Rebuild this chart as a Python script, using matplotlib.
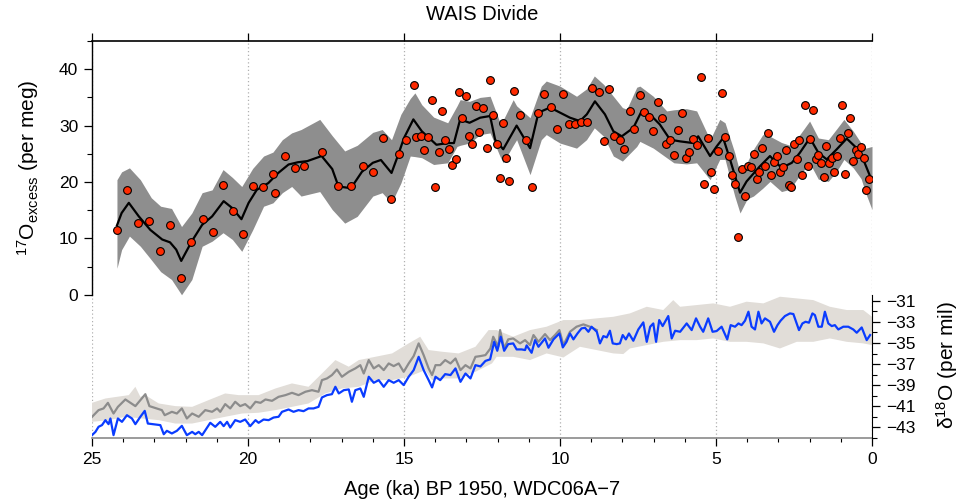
import numpy as np
import matplotlib
matplotlib.use("Agg")
import matplotlib.pyplot as plt

plt.rcParams['font.family'] = ['Liberation Sans', 'DejaVu Sans']
plt.rcParams['mathtext.fontset'] = 'custom'
plt.rcParams['mathtext.rm'] = 'Liberation Sans'
plt.rcParams['mathtext.it'] = 'Liberation Sans:italic'

# 17O-excess measurements (age ka, per meg)
o17_age = [24.20, 23.88, 23.53, 23.16, 22.83, 22.49, 22.16, 21.82, 21.45, 21.12,
           20.80, 20.49, 20.16, 19.85, 19.53, 19.21, 19.14, 18.82, 18.49, 18.20,
           17.64, 17.12, 16.71, 16.32, 15.98, 15.68, 15.42, 15.17, 14.93, 14.69,
           14.60, 14.47, 14.36, 14.24, 14.11, 14.01, 13.89, 13.77, 13.68, 13.56,
           13.45, 13.33, 13.24, 13.13, 13.02, 12.92, 12.81, 12.69, 12.59, 12.47,
           12.35, 12.24, 12.14, 12.03, 11.92, 11.82, 11.73, 11.65, 11.47, 11.28,
           11.09, 10.91, 10.69, 10.50, 10.30, 10.10, 9.90, 9.71, 9.52, 9.33,
           9.13, 8.96, 8.76, 8.60, 8.43, 8.26, 8.09, 7.94, 7.77, 7.62,
           7.45, 7.30, 7.15, 7.01, 6.87, 6.73, 6.60, 6.46, 6.36, 6.22,
           6.09, 5.95, 5.85, 5.73, 5.62, 5.49, 5.38, 5.26, 5.15, 5.06,
           4.93, 4.82, 4.71, 4.59, 4.49, 4.39, 4.29, 4.18, 4.07, 3.98,
           3.89, 3.79, 3.70, 3.61, 3.52, 3.42, 3.32, 3.23, 3.13, 3.04,
           2.95, 2.86, 2.77, 2.67, 2.59, 2.50, 2.41, 2.33, 2.24, 2.16,
           2.06, 1.98, 1.89, 1.81, 1.72, 1.64, 1.55, 1.47, 1.38, 1.29,
           1.21, 1.12, 1.04, 0.95, 0.87, 0.78, 0.70, 0.61, 0.52, 0.44,
           0.35, 0.27, 0.18, 0.11]
o17_val = [11.5, 18.6, 12.7, 13.1, 7.7, 12.4, 2.9, 9.3, 13.4, 11.1,
           19.5, 14.9, 10.7, 19.3, 19.1, 21.4, 18.1, 24.6, 22.5, 22.8,
           25.3, 19.2, 19.3, 22.9, 21.8, 27.8, 16.9, 25.0, 27.4, 37.2,
           27.9, 28.2, 25.7, 28.0, 34.6, 19.1, 25.4, 32.6, 27.4, 25.9,
           23.0, 24.0, 36.0, 31.3, 35.3, 28.1, 26.7, 33.4, 28.9, 33.2,
           26.0, 38.1, 31.8, 26.8, 20.7, 30.5, 24.2, 20.1, 36.2, 31.9,
           27.5, 19.1, 32.3, 35.6, 33.3, 29.4, 35.6, 30.2, 30.3, 30.7,
           30.6, 36.6, 35.9, 27.2, 36.4, 28.1, 27.4, 25.9, 32.5, 29.4,
           35.5, 32.4, 31.6, 29.0, 34.2, 31.4, 26.8, 27.4, 24.7, 29.2,
           32.2, 24.2, 25.3, 27.7, 26.6, 38.6, 19.7, 27.8, 21.7, 18.7,
           25.5, 35.7, 27.9, 24.6, 21.2, 19.6, 10.3, 22.3, 17.6, 22.8,
           22.7, 24.9, 20.5, 21.8, 26.0, 22.9, 28.6, 21.3, 23.5, 24.6,
           21.8, 22.6, 25.7, 19.4, 19.1, 26.8, 24.0, 27.5, 21.3, 33.6,
           22.8, 27.7, 32.7, 24.0, 24.7, 23.3, 20.8, 26.3, 23.3, 24.3,
           21.7, 24.6, 27.8, 33.6, 21.4, 28.6, 31.4, 23.8, 25.6, 25.0,
           26.2, 24.2, 18.5, 20.5]

# smoothed 17O-excess curve
fit_age = [24.20, 24.05, 23.82, 23.50, 23.13, 22.75, 22.50, 22.30, 22.14, 21.80,
           21.47, 21.15, 20.78, 20.51, 20.21, 19.98, 19.72, 19.35, 19.03, 18.70,
           18.40, 18.10, 17.64, 17.30, 17.10, 16.70, 16.35, 16.00, 15.74, 15.40,
           15.20, 15.00, 14.70, 14.43, 13.96, 13.60, 13.40, 13.20, 12.90, 12.56,
           12.24, 12.08, 11.82, 11.39, 10.96, 10.69, 10.32, 10.00, 9.68, 9.36,
           9.14, 8.88, 8.56, 8.29, 8.02, 7.65, 7.38, 7.12, 6.80, 6.47,
           6.15, 5.73, 5.57, 5.19, 4.98, 4.77, 4.55, 4.23, 4.02, 3.59,
           3.27, 2.90, 2.57, 2.31, 1.99, 1.72, 1.45, 1.13, 0.81, 0.49,
           0.28, 0.06]
fit_val = [12.3, 14.5, 16.3, 13.9, 11.5, 9.8, 9.3, 8.0, 6.0, 9.5,
           12.4, 13.9, 16.6, 15.4, 13.4, 16.3, 18.6, 19.8, 21.6, 23.1,
           23.5, 23.7, 24.6, 22.3, 19.2, 18.9, 21.8, 23.4, 23.9, 21.6,
           24.6, 27.8, 31.1, 29.0, 26.6, 26.9, 26.9, 31.1, 30.5, 31.4,
           31.7, 27.5, 25.8, 30.0, 26.0, 32.3, 33.2, 32.3, 31.4, 30.8,
           32.0, 34.3, 32.0, 29.0, 28.1, 29.6, 32.6, 32.0, 30.2, 27.5,
           27.2, 26.9, 28.1, 24.6, 26.3, 27.8, 24.0, 18.1, 20.1, 22.8,
           24.6, 22.5, 23.4, 25.2, 27.8, 25.2, 24.0, 25.8, 27.7, 26.0,
           24.0, 21.0]

# uncertainty envelope of the curve
band_age = [24.20, 24.05, 23.80, 23.45, 23.10, 22.80, 22.45, 22.13, 21.80, 21.47,
            21.15, 20.80, 20.50, 20.20, 19.85, 19.50, 19.20, 18.90, 18.60, 18.30,
            17.70, 17.30, 16.90, 16.50, 16.00, 15.70, 15.40, 15.10, 14.80, 14.65,
            14.43, 14.05, 13.60, 13.30, 13.20, 12.90, 12.56, 12.24, 11.92, 11.82,
            11.50, 11.39, 10.96, 10.60, 10.44, 10.00, 9.47, 9.15, 8.90, 8.60,
            8.29, 8.00, 7.86, 7.54, 7.44, 7.01, 6.58, 6.35, 5.95, 5.62,
            5.19, 4.88, 4.71, 4.40, 4.23, 4.00, 3.80, 3.50, 3.27, 2.90,
            2.63, 2.30, 2.00, 1.72, 1.40, 1.12, 0.90, 0.60, 0.35, 0.20,
            0.00]
band_lo = [4.7, 8.0, 10.4, 8.6, 6.2, 4.1, 2.7, 0.0, 2.7, 8.6,
           9.5, 11.0, 9.8, 7.7, 11.5, 15.7, 16.3, 18.1, 19.2, 17.5,
           18.3, 15.1, 12.7, 13.9, 17.5, 18.1, 16.3, 19.8, 24.6, 24.5,
           24.3, 23.1, 23.4, 26.3, 26.5, 26.9, 28.4, 28.7, 24.5, 23.4,
           26.5, 27.5, 21.3, 27.5, 28.4, 26.9, 26.0, 27.5, 29.6, 28.1,
           24.6, 23.7, 24.5, 26.3, 27.2, 26.0, 24.3, 23.4, 23.2, 23.4,
           20.4, 24.0, 24.0, 17.5, 14.5, 17.0, 17.5, 18.9, 20.1, 18.3,
           18.7, 21.3, 23.4, 20.5, 20.1, 22.0, 24.0, 22.5, 20.6, 18.0,
           15.1]
band_hi = [20.4, 21.8, 22.5, 20.4, 17.2, 15.7, 15.3, 12.1, 14.5, 18.1,
           18.6, 22.2, 20.8, 19.2, 22.4, 24.6, 25.3, 27.5, 28.7, 29.3,
           31.1, 28.2, 25.5, 26.5, 28.8, 29.3, 27.5, 32.0, 34.8, 35.8,
           33.7, 31.5, 30.5, 33.5, 34.6, 34.3, 35.0, 35.2, 30.5, 31.0,
           34.6, 33.5, 31.4, 37.0, 37.9, 37.0, 35.2, 36.5, 38.8, 37.3,
           35.2, 33.2, 32.9, 36.8, 37.0, 35.2, 32.6, 32.8, 33.0, 32.6,
           27.5, 31.1, 30.5, 25.2, 21.6, 23.5, 25.8, 28.4, 28.1, 27.0,
           26.5, 28.5, 30.8, 27.8, 27.5, 29.5, 31.1, 29.0, 26.9, 26.0,
           26.3]

# d18O, blue curve
blue_age = [25.00, 24.89, 24.79, 24.68, 24.57, 24.47, 24.41, 24.31, 24.17, 24.04,
            23.88, 23.72, 23.61, 23.45, 23.31, 23.21, 22.81, 22.70, 22.60, 22.44,
            22.28, 22.12, 21.96, 21.79, 21.69, 21.58, 21.47, 21.21, 21.05, 20.89,
            20.78, 20.67, 20.57, 20.41, 20.25, 20.09, 19.93, 19.76, 19.66, 19.50,
            19.34, 19.18, 19.02, 18.91, 18.70, 18.54, 18.38, 18.22, 18.06, 17.90,
            17.74, 17.63, 17.47, 17.31, 17.20, 17.09, 16.93, 16.77, 16.67, 16.56,
            16.40, 16.29, 16.13, 15.97, 15.81, 15.65, 15.49, 15.33, 15.17, 15.01,
            14.85, 14.69, 14.53, 14.37, 14.21, 14.10, 13.99, 13.84, 13.68, 13.51,
            13.35, 13.19, 13.03, 12.87, 12.71, 12.55, 12.39, 12.24, 12.11, 12.01,
            11.90, 11.79, 11.66, 11.50, 11.39, 11.23, 11.12, 11.07, 10.91, 10.80,
            10.69, 10.48, 10.37, 10.21, 10.02, 9.91, 9.79, 9.68, 9.57, 9.44,
            9.31, 9.20, 9.09, 8.99, 8.82, 8.72, 8.61, 8.50, 8.40, 8.31,
            8.18, 8.08, 7.99, 7.89, 7.79, 7.65, 7.49, 7.33, 7.22, 7.11,
            7.01, 6.92, 6.82, 6.71, 6.53, 6.42, 6.31, 6.15, 5.94, 5.78,
            5.64, 5.51, 5.41, 5.25, 5.11, 4.98, 4.82, 4.64, 4.53, 4.39,
            4.28, 4.18, 4.07, 3.96, 3.86, 3.75, 3.64, 3.54, 3.43, 3.27,
            3.14, 3.03, 2.93, 2.79, 2.63, 2.52, 2.34, 2.23, 2.13, 2.02,
            1.91, 1.83, 1.72, 1.61, 1.51, 1.40, 1.29, 1.19, 1.08, 0.92,
            0.76, 0.60, 0.49, 0.33, 0.17, 0.06]
blue_d18o = [-43.73, -43.42, -42.94, -42.78, -42.31, -42.69, -42.15, -43.73, -42.15, -42.47,
             -41.84, -42.15, -42.69, -41.99, -41.43, -42.63, -42.78, -43.64, -43.32, -43.57,
             -43.32, -42.85, -43.73, -43.42, -43.64, -43.42, -43.73, -42.56, -42.94, -42.47,
             -42.88, -42.47, -43.01, -42.31, -42.47, -42.25, -42.88, -42.31, -42.56, -42.25,
             -42.31, -42.06, -41.99, -41.52, -41.30, -41.52, -41.36, -41.46, -41.20, -41.20,
             -41.05, -40.16, -39.94, -39.85, -39.15, -39.78, -39.47, -39.40, -40.57, -39.47,
             -39.31, -40.10, -38.20, -38.77, -38.52, -39.15, -38.52, -38.77, -38.52, -38.99,
             -38.20, -37.57, -36.31, -37.57, -38.52, -39.21, -38.20, -38.52, -37.95, -38.04,
             -37.41, -38.68, -37.89, -38.36, -37.10, -37.22, -36.70, -36.55, -34.89, -35.74,
             -34.41, -35.74, -35.11, -35.04, -35.61, -35.61, -35.67, -35.23, -35.93, -34.73,
             -35.36, -34.57, -35.45, -34.66, -34.10, -35.42, -34.89, -34.10, -34.66, -34.10,
             -33.62, -33.56, -33.94, -33.46, -33.94, -35.04, -34.35, -34.47, -33.84, -35.04,
             -35.11, -35.04, -34.25, -34.66, -34.10, -34.79, -33.72, -33.05, -34.89, -33.46,
             -33.15, -34.89, -32.83, -33.40, -32.45, -34.57, -33.84, -33.94, -33.15, -33.78,
             -32.67, -33.46, -33.94, -32.67, -33.94, -33.87, -33.46, -34.66, -33.31, -33.46,
             -33.15, -33.31, -32.89, -32.04, -33.46, -33.72, -32.04, -33.15, -32.67, -32.99,
             -33.94, -33.31, -32.89, -32.45, -32.20, -32.26, -33.78, -33.15, -32.99, -33.08,
             -32.20, -32.36, -33.46, -33.46, -32.04, -33.15, -33.40, -33.31, -33.72, -33.46,
             -33.46, -33.72, -34.03, -33.53, -34.73, -34.25]

# d18O, grey curve
gray_age = [25.00, 24.79, 24.63, 24.49, 24.31, 24.17, 23.93, 23.61, 23.29, 23.16,
            22.76, 22.67, 22.44, 22.28, 22.12, 21.96, 21.79, 21.58, 21.37, 21.15,
            20.99, 20.89, 20.73, 20.57, 20.41, 20.25, 20.09, 19.93, 19.76, 19.60,
            19.44, 19.23, 19.02, 18.80, 18.59, 18.38, 18.16, 17.95, 17.74, 17.63,
            17.47, 17.31, 17.15, 16.99, 16.77, 16.56, 16.40, 16.29, 16.13, 15.97,
            15.81, 15.65, 15.49, 15.33, 15.17, 15.01, 14.85, 14.69, 14.53, 14.37,
            14.21, 14.10, 13.99, 13.84, 13.68, 13.51, 13.35, 13.19, 13.03, 12.87,
            12.71, 12.55, 12.39, 12.23, 12.14, 11.98, 11.92, 11.79, 11.66, 11.50,
            11.28, 11.12, 10.96, 10.85, 10.69, 10.48, 10.32, 10.16, 10.02, 9.89,
            9.68, 9.47, 9.25, 9.04, 8.82]
gray_d18o = [-42.00, -41.36, -41.20, -40.67, -41.68, -41.05, -40.35, -40.98, -39.85, -40.98,
             -41.36, -41.84, -41.52, -41.68, -41.20, -42.15, -41.68, -41.99, -41.36, -41.52,
             -41.20, -41.52, -40.79, -41.20, -40.57, -40.98, -40.79, -41.20, -40.57, -40.67,
             -40.35, -40.48, -40.10, -39.94, -39.72, -39.94, -39.62, -39.47, -39.62, -38.52,
             -38.36, -38.04, -37.51, -38.20, -37.73, -37.41, -37.10, -37.89, -36.62, -37.41,
             -37.10, -37.57, -36.94, -37.19, -36.94, -37.73, -36.94, -36.24, -35.04, -36.15,
             -37.41, -38.04, -37.10, -37.10, -36.62, -36.94, -36.47, -37.57, -37.10, -37.41,
             -36.31, -36.24, -36.15, -35.52, -34.41, -35.36, -33.78, -35.52, -34.66, -34.57,
             -35.04, -34.73, -35.20, -34.25, -34.89, -34.16, -34.73, -34.25, -33.78, -35.20,
             -33.94, -33.46, -33.24, -33.46, -33.78]

# spread of the high-resolution d18O record (upper and lower edges)
env_up_age = [25.00, 24.57, 24.20, 23.82, 23.61, 23.45, 23.29, 22.86, 22.33, 21.79,
              21.26, 20.73, 20.30, 19.66, 19.12, 18.59, 18.06, 17.52, 17.20, 16.77,
              16.45, 15.92, 15.38, 14.85, 14.48, 14.21, 13.78, 13.25, 12.71, 12.29,
              12.03, 11.50, 10.96, 10.43, 9.89, 9.36, 8.83, 8.29, 7.76, 7.22,
              6.69, 6.37, 6.15, 5.62, 5.09, 4.55, 4.02, 3.48, 2.95, 2.41,
              1.88, 1.35, 0.81, 0.28, 0.00]
env_up = [-40.67, -40.26, -40.10, -39.94, -39.15, -40.10, -39.94, -40.73, -40.98, -41.05,
          -40.41, -39.78, -39.94, -39.94, -39.31, -38.83, -39.15, -37.57, -36.62, -37.25,
          -36.62, -36.31, -35.99, -35.04, -34.41, -35.67, -35.83, -35.99, -35.36, -33.78,
          -33.78, -34.41, -33.78, -33.46, -32.83, -32.83, -32.67, -32.52, -32.20, -31.57,
          -31.88, -30.94, -31.57, -31.41, -31.25, -31.57, -31.09, -31.25, -30.62, -30.78,
          -30.94, -31.57, -31.88, -31.88, -32.52]
env_lo_age = [25.00, 24.47, 23.93, 23.40, 22.86, 22.33, 21.79, 21.26, 20.73, 20.19,
              19.66, 19.12, 18.59, 18.06, 17.52, 16.99, 16.45, 15.92, 15.38, 14.85,
              14.32, 14.10, 13.78, 13.25, 12.71, 12.18, 12.03, 11.50, 10.96, 10.43,
              9.89, 9.36, 8.83, 8.29, 7.97, 7.76, 7.22, 6.69, 6.15, 5.62,
              5.09, 4.55, 4.02, 3.48, 2.95, 2.41, 1.88, 1.35, 0.81, 0.28,
              0.00]
env_lo = [-42.47, -42.31, -41.99, -42.15, -42.31, -42.63, -42.63, -42.31, -41.99, -41.68,
          -41.61, -41.36, -41.05, -40.73, -39.78, -39.31, -39.15, -38.52, -38.52, -38.20,
          -37.57, -38.52, -38.36, -38.36, -37.73, -36.94, -36.31, -36.31, -36.62, -35.99,
          -36.37, -35.36, -35.67, -35.99, -36.05, -35.52, -35.20, -34.89, -34.73, -34.73,
          -34.57, -34.89, -34.89, -35.04, -35.52, -34.89, -34.89, -34.57, -34.89, -35.04,
          -35.20]

x_major = [25, 20, 15, 10, 5, 0]

fig = plt.figure(figsize=(9.63, 5.04), dpi=100)
ax = fig.add_axes([92 / 963, 1 - 438 / 504, 780 / 963, 397 / 504])
ax2 = ax.twinx()

# upper panel: 17O excess
for t in x_major:
    ax.axvline(t, color='#b0b0b0', ls=(0, (1, 2)), lw=0.9, zorder=0)
ax.fill_between(band_age, band_lo, band_hi, color='#8e8e8e', lw=0, zorder=1)
ax.plot(fit_age, fit_val, color='black', lw=1.6, zorder=2, solid_joinstyle='round')
ax.plot(o17_age, o17_val, 'o', ms=5.6, mfc='#ff2a00', mec='black', mew=0.8, zorder=3)

ax.set_xlim(25, 0)
ax.set_ylim(-25.4, 45)
ax.set_xticks(x_major)
ax.set_xticks(np.arange(0, 26, 1), minor=True)
ax.set_yticks([0, 10, 20, 30, 40])
ax.set_yticks([5, 15, 25, 35, 45], minor=True)
ax.spines['left'].set_bounds(0, 45)
ax.spines['right'].set_visible(False)
ax.spines['bottom'].set_color('#8a8a8a')
ax.spines['left'].set_linewidth(1.0)
ax.spines['top'].set_linewidth(1.2)
ax.spines['bottom'].set_linewidth(1.2)
ax.tick_params(axis='x', which='major', top=True, labeltop=False, length=5.5, width=0.9,
               pad=4.5, labelsize=12.5)
ax.tick_params(axis='x', which='minor', top=False, length=3, width=0.8)
ax.tick_params(axis='y', which='major', length=5.5, width=0.9, pad=4.5, labelsize=12.5)
ax.tick_params(axis='y', which='minor', length=3.5, width=0.8)

# lower panel: d18O
poly_x = list(env_up_age) + list(env_lo_age[::-1])
poly_y = list(env_up) + list(env_lo[::-1])
ax2.fill(poly_x, poly_y, color='#e1ddd8', lw=0, zorder=1)
ax2.plot(gray_age, gray_d18o, color='#8c8c8c', lw=1.6, zorder=2)
ax2.plot(blue_age, blue_d18o, color='#0a3cff', lw=1.6, zorder=3)
ax2.set_ylim(-44, -6.4)
ax2.set_yticks([-31, -33, -35, -37, -39, -41, -43])
ax2.set_yticks([-32, -34, -36, -38, -40, -42, -44], minor=True)
ax2.spines['right'].set_bounds(-44, -30.5)
for s in ['left', 'top', 'bottom']:
    ax2.spines[s].set_visible(False)
ax2.tick_params(axis='y', which='major', length=5.5, width=0.9, pad=4.5, labelsize=12.5)
ax2.tick_params(axis='y', which='minor', length=3.5, width=0.8)

fig.text(482 / 963, 1 - 20 / 504, 'WAIS Divide', ha='center', va='baseline', fontsize=14.5)
fig.text(482 / 963, 1 - 495 / 504, 'Age (ka) BP 1950, WDC06A\u22127', ha='center',
         va='baseline', fontsize=14.5)
fig.text(28 / 963, 1 - 168 / 504, r'$\mathregular{^{17}O_{excess}}$ (per meg)', rotation=90,
         ha='center', va='center', fontsize=15)
fig.text(947 / 963, 1 - 365 / 504, r'$\mathregular{\delta^{18}O}$ (per mil)', rotation=90,
         ha='center', va='center', fontsize=15)

fig.savefig('out.png', dpi=100)
